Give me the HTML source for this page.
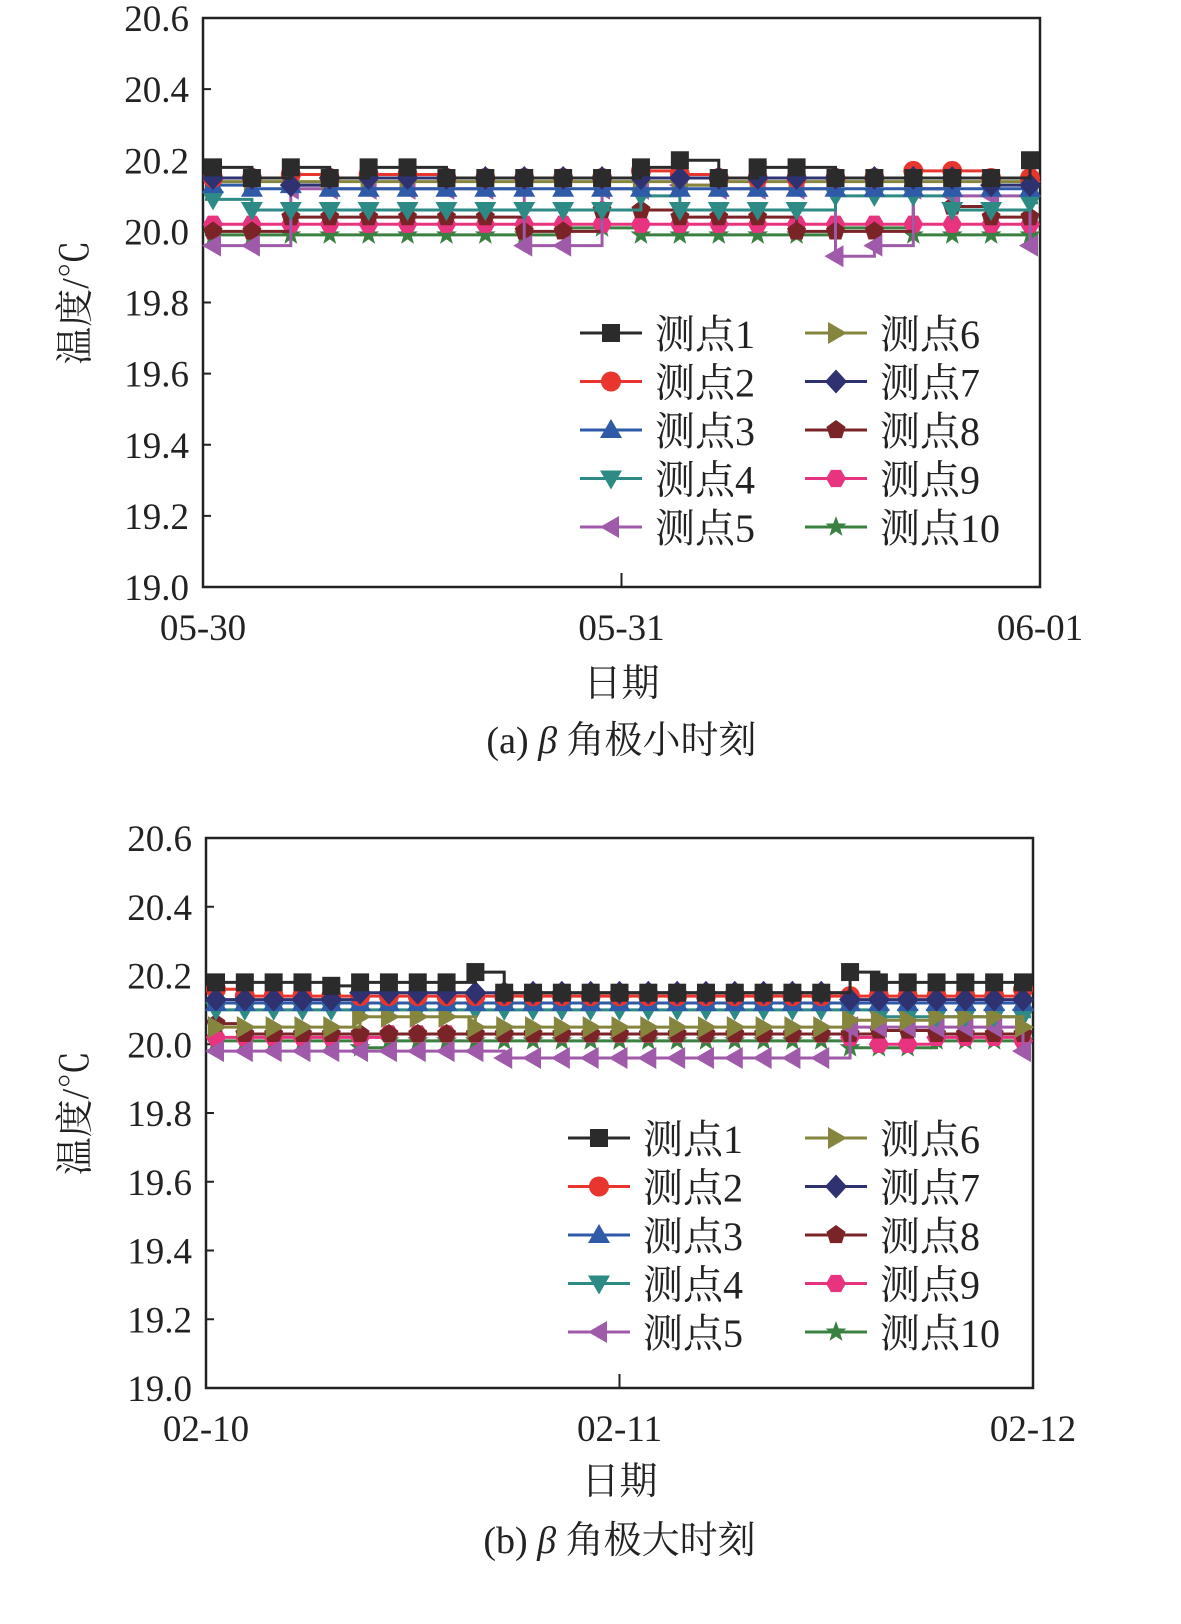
<!DOCTYPE html>
<html><head><meta charset="utf-8"><style>
body{margin:0;background:#fff}
svg{display:block}
text{font-family:"Liberation Serif","Noto Serif CJK SC",serif;fill:#222}
</style></head><body>
<svg id="s" width="1181" height="1624" viewBox="0 0 1181 1624" xmlns="http://www.w3.org/2000/svg"></svg>
<script>
const names=["测点1","测点2","测点3","测点4","测点5","测点6","测点7","测点8","测点9","测点10"];
const colors=["#2b2b2b","#e8352e","#2f5aa8","#2e8a84","#a05aaa","#85853e","#2e3270","#7a2428","#e8347f","#3a8040"];
const shapes=["square","circle","up","down","left","right","diamond","pent","hex","star"];
const yTicks=[19.0,19.2,19.4,19.6,19.8,20.0,20.2,20.4,20.6];
const xTicksA=["05-30","05-31","06-01"];
const xTicksB=["02-10","02-11","02-12"];
// chart (a): 22 samples per series over 2 days
const a1=[20.18,20.15,20.18,20.15,20.18,20.18,20.15,20.15,20.15,20.15,20.15,20.18,20.2,20.15,20.18,20.18,20.15,20.15,20.15,20.15,20.15,20.2];
const a2=[20.15,20.15,20.16,20.15,20.16,20.16,20.15,20.15,20.15,20.15,20.15,20.17,20.16,20.15,20.15,20.15,20.15,20.15,20.17,20.17,20.15,20.15];
const a3=[20.13,20.12,20.13,20.12,20.12,20.12,20.12,20.12,20.12,20.12,20.12,20.12,20.12,20.12,20.12,20.12,20.12,20.12,20.12,20.12,20.12,20.12];
const a4=[20.09,20.06,20.06,20.06,20.06,20.06,20.06,20.06,20.06,20.06,20.06,20.1,20.06,20.06,20.06,20.06,20.1,20.1,20.1,20.06,20.06,20.08];
const a5=[19.96,19.96,20.12,20.12,20.12,20.12,20.12,20.12,19.96,19.96,20.12,20.12,20.13,20.12,20.12,20.12,19.93,19.96,20.12,20.1,20.1,19.96];
const a6=[20.14,20.14,20.14,20.14,20.14,20.14,20.14,20.14,20.14,20.14,20.14,20.14,20.13,20.14,20.14,20.14,20.14,20.14,20.14,20.14,20.14,20.14];
const a7=[20.15,20.15,20.13,20.15,20.15,20.15,20.15,20.15,20.15,20.15,20.15,20.15,20.15,20.15,20.15,20.15,20.15,20.15,20.15,20.15,20.13,20.13];
const a8=[20.0,20.0,20.04,20.04,20.04,20.04,20.04,20.04,20.0,20.0,20.06,20.06,20.04,20.04,20.04,20.0,20.0,20.0,20.12,20.07,20.04,20.04];
const a9=[20.02,20.02,20.02,20.02,20.02,20.02,20.02,20.02,20.02,20.02,20.02,20.02,20.02,20.02,20.02,20.02,20.02,20.02,20.02,20.02,20.02,20.02];
const a10=[19.99,19.99,19.99,19.99,19.99,19.99,19.99,19.99,19.99,20.01,20.01,19.99,19.99,19.99,19.99,19.99,20.01,20.01,19.99,19.99,19.99,19.99];
// chart (b): 29 samples per series over 2 days
const b1=[20.18,20.18,20.18,20.18,20.17,20.18,20.18,20.18,20.18,20.21,20.15,20.15,20.15,20.15,20.15,20.15,20.15,20.15,20.15,20.15,20.15,20.15,20.21,20.18,20.18,20.18,20.18,20.18,20.18];
const b2=[20.16,20.14,20.14,20.14,20.14,20.14,20.14,20.14,20.14,20.14,20.14,20.14,20.14,20.14,20.14,20.14,20.14,20.14,20.14,20.14,20.14,20.14,20.14,20.14,20.14,20.14,20.14,20.14,20.16];
const b3=[20.12,20.12,20.12,20.12,20.12,20.12,20.12,20.12,20.12,20.12,20.12,20.12,20.12,20.12,20.12,20.12,20.12,20.12,20.12,20.12,20.12,20.12,20.12,20.12,20.12,20.12,20.12,20.12,20.12];
const b4=[20.1,20.1,20.1,20.1,20.1,20.1,20.1,20.1,20.1,20.1,20.1,20.1,20.1,20.1,20.1,20.1,20.1,20.1,20.1,20.1,20.1,20.1,20.1,20.08,20.08,20.08,20.08,20.08,20.08];
const b5=[19.98,19.98,19.98,19.98,19.98,19.98,19.98,19.98,19.98,19.98,19.96,19.96,19.96,19.96,19.96,19.96,19.96,19.96,19.96,19.96,19.96,19.96,20.05,20.05,20.05,20.05,20.05,20.05,19.98];
const b6=[20.05,20.05,20.05,20.05,20.05,20.08,20.08,20.08,20.08,20.05,20.05,20.05,20.05,20.05,20.05,20.05,20.05,20.05,20.05,20.05,20.05,20.05,20.07,20.07,20.07,20.08,20.08,20.08,20.05];
const b7=[20.13,20.13,20.13,20.13,20.13,20.15,20.15,20.15,20.15,20.15,20.15,20.15,20.15,20.15,20.15,20.15,20.15,20.15,20.15,20.15,20.15,20.15,20.13,20.13,20.13,20.13,20.13,20.13,20.13];
const b8=[20.06,20.03,20.03,20.03,20.03,20.03,20.03,20.03,20.03,20.03,20.03,20.03,20.03,20.03,20.03,20.03,20.03,20.03,20.03,20.03,20.03,20.03,20.03,20.04,20.04,20.03,20.03,20.03,20.03];
const b9=[20.02,20.02,20.02,20.02,20.02,20.02,20.03,20.03,20.03,20.03,20.03,20.03,20.03,20.03,20.03,20.03,20.03,20.03,20.03,20.03,20.03,20.03,20.02,20.0,20.0,20.02,20.02,20.02,20.01];
const b10=[20.01,20.01,20.01,20.01,20.01,19.99,20.01,20.01,20.01,20.01,20.01,20.01,20.01,20.01,20.01,20.01,20.01,20.01,20.01,20.01,20.01,20.01,19.99,19.99,19.99,20.01,20.01,20.01,20.01];

const NS="http://www.w3.org/2000/svg";
const svg=document.getElementById('s');
function mk(tag,attrs,parent){const e=document.createElementNS(NS,tag);for(const k in attrs)e.setAttribute(k,attrs[k]);(parent||svg).appendChild(e);return e;}
function marker(g,shape,x,y,c){
  const r=10;let e;
  if(shape==="square")e=mk('rect',{x:x-9,y:y-9,width:18,height:18,fill:c},g);
  else if(shape==="circle")e=mk('circle',{cx:x,cy:y,r:10,fill:c},g);
  else{
    let pts=[];
    if(shape==="up")pts=[[0,-11],[11,8],[-11,8]];
    else if(shape==="down")pts=[[0,11],[11,-8],[-11,-8]];
    else if(shape==="left")pts=[[-11,0],[8,-11],[8,11]];
    else if(shape==="right")pts=[[11,0],[-8,-11],[-8,11]];
    else if(shape==="diamond")pts=[[0,-12],[11,0],[0,12],[-11,0]];
    else{const n=shape==="pent"?5:shape==="hex"?6:10;const off=shape==="hex"?0:-Math.PI/2;
      for(let i=0;i<n;i++){const a=off+i*2*Math.PI/n;const rr=shape==="star"?(i%2?4.5:11):r;pts.push([rr*Math.cos(a),rr*Math.sin(a)]);}}
    e=mk('polygon',{points:pts.map(p=>(x+p[0])+','+(y+p[1])).join(' '),fill:c},g);
  }
  
  
}
function chart(cfg){
  const {x0,x1,yTop,yBot,series,xticks,legend,tag,caption,capY,titleY}=cfg;
  const Y=v=>yBot-(v-19.0)/1.6*(yBot-yTop);
  const g=mk('g',{});
  
  
  const ax=mk('rect',{x:x0,y:yTop,width:x1-x0,height:yBot-yTop,fill:'none',stroke:'#222','stroke-width':2.5},g);
  
  yTicks.forEach(v=>{const y=Y(v);
    mk('line',{x1:x0,x2:x0+8,y1:y,y2:y,stroke:'#222','stroke-width':2},g);
    const t=mk('text',{x:x0-14,y:y+13,'text-anchor':'end','font-size':37},g);t.textContent=v.toFixed(1);
    });
  xticks.forEach((s,i)=>{const x=x0+(x1-x0)*i/2;
    mk('line',{x1:x,x2:x,y1:yBot,y2:yBot-14,stroke:'#222','stroke-width':2},g);
    const t=mk('text',{x:x,y:yBot+53,'text-anchor':'middle','font-size':37},g);t.textContent=s;
    });
  const xt=mk('text',{x:(x0+x1)/2,y:titleY,'text-anchor':'middle','font-size':38},g);xt.textContent='日期';
  
  const yc=(yTop+yBot)/2;
  const yt=mk('text',{x:0,y:0,'text-anchor':'middle','font-size':38,transform:`translate(88,${yc}) rotate(-90)`},g);yt.textContent='温度/℃';
  
  const cp=mk('text',{x:(x0+x1)/2,y:capY,'text-anchor':'middle','font-size':38},g);
  cp.innerHTML=caption;
  
  const order=[9,8,7,4,3,5,2,1,6,0];
  order.forEach(si=>{const d=series[si];const n=d.length;const X=i=>x0+10+(x1-x0-20)*i/(n-1);
    const sg=mk('g',{},g);
    
    let p=`M${x0+2},${Y(d[0])}`;
    for(let i=0;i<n;i++){p+=` L${X(i)},${Y(i?d[i-1]:d[0])} L${X(i)},${Y(d[i])}`;}
    p+=` L${x1-2},${Y(d[n-1])}`;
    const pl=mk('path',{d:p,fill:'none',stroke:colors[si],'stroke-width':3},sg);
    
    for(let i=0;i<n;i++)marker(sg,shapes[si],X(i),Y(d[i]),colors[si]);
  });
  names.forEach((nm,i)=>{const col=i<5?0:1;const row=i%5;
    const lx=legend.cx[col],ly=legend.y0+row*48.5;
    const lg=mk('g',{},g);
    
    mk('line',{x1:lx,x2:lx+62,y1:ly,y2:ly,stroke:colors[i],'stroke-width':3},lg);
    marker(lg,shapes[i],lx+31,ly,colors[i]);
    const t=mk('text',{x:lx+75,y:ly+15,'font-size':40},lg);t.textContent=nm;
  });
}
chart({tag:'a',x0:203,x1:1040,yTop:18,yBot:587,series:[a1,a2,a3,a4,a5,a6,a7,a8,a9,a10],xticks:xTicksA,
  legend:{cx:[580,805],y0:333},caption:'(a) <tspan font-style="italic">β</tspan> 角极小时刻',capY:753,titleY:696});
chart({tag:'b',x0:206,x1:1033,yTop:838,yBot:1388,series:[b1,b2,b3,b4,b5,b6,b7,b8,b9,b10],xticks:xTicksB,
  legend:{cx:[568,805],y0:1138},caption:'(b) <tspan font-style="italic">β</tspan> 角极大时刻',capY:1553,titleY:1494});
</script>
</body></html>
